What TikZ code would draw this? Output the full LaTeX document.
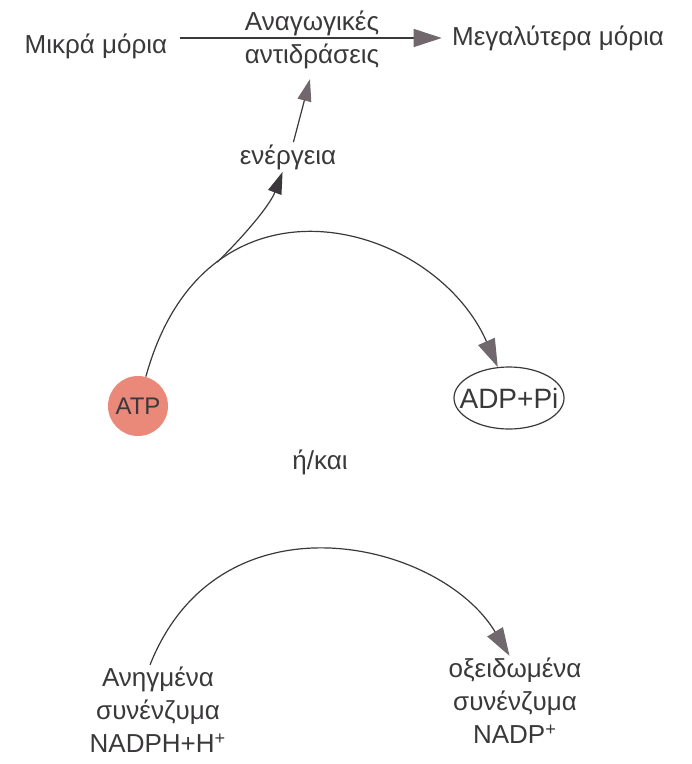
\documentclass[tikz,border=0pt]{standalone}
\usepackage{fontspec}
\setmainfont{Liberation Sans}
\usepackage{xcolor}
\definecolor{Col1}{RGB}{58,56,58}
\definecolor{Col2}{RGB}{112,104,108}
\definecolor{Col3}{RGB}{234,136,122}
\usetikzlibrary{arrows.meta}
\usetikzlibrary{shapes.geometric}
\tikzstyle{Label}=[font=\fontsize{13}{16.5}\selectfont,text=Col1,
align=center,inner sep=1pt]
\tikzstyle{Edge}=[draw=Col1,line width=0.6pt]
\tikzstyle{BigTip}=[-{Triangle[length=14pt,width=9pt,color=Col2,fill=Col2]}]
\tikzstyle{SmallTip}=[-{Triangle[length=11pt,width=7pt,color=Col2,fill=Col2]}]
\tikzstyle{DarkTip}=[-{Triangle[length=11pt,width=7pt,color=Col1,fill=Col1]}]
\tikzstyle{NodeATP}=[circle,fill=Col3,minimum size=30pt,inner sep=0pt,
font=\fontsize{12}{14}\selectfont,text=Col1]
\tikzstyle{NodeADP}=[ellipse,draw=Col1,line width=0.6pt,inner xsep=-6pt,
inner ysep=0pt,minimum width=55pt,minimum height=31pt,
font=\fontsize{14}{16}\selectfont,text=Col1]

\begin{document}
\begin{tikzpicture}[x=0.5pt,y=-0.5pt]
            \useasboundingbox(0,0)rectangle(691,764);
            \node[Label](small)at(96,46){Μικρά μόρια};
            \node[Label](large)at(558,38){Μεγαλύτερα μόρια};
            \node[Label](reac)at(312,40){Αναγωγικές\\αντιδράσεις};
            \node[Label](energy)at(288,157){ενέργεια};
            \node[NodeATP](atp)at(138,406){ATP};
            \node[NodeADP](adp)at(509,398){ADP+Pi};
            \node[Label](or)at(320,462){ή/και};
            \node[Label](red)at(158,710)
                {Ανηγμένα\\συνένζυμα\\NADPH+H\textsuperscript{+}};
            \node[Label](ox)at(515,701)
                {οξειδωμένα\\συνένζυμα\\NADP\textsuperscript{+}};
            %
            \draw[Edge,BigTip,shorten <=5pt,shorten >=4pt]
                (small.east|-large.west)--(large.west);
            \draw[Edge,BigTip](atp.75)..controls(206,158)and(433,220)..
                coordinate[pos=0.25](split)(adp.110);
            \draw[Edge,DarkTip](split)..controls(245,235)and(270,205)..
                (energy.250);
            \draw[Edge,SmallTip,shorten >=4pt](energy.70)--(reac.south);
            \draw[Edge,BigTip](red.100)..controls(220,489)and(440,540)..
                (ox.97);
        \end{tikzpicture}
\end{document}
